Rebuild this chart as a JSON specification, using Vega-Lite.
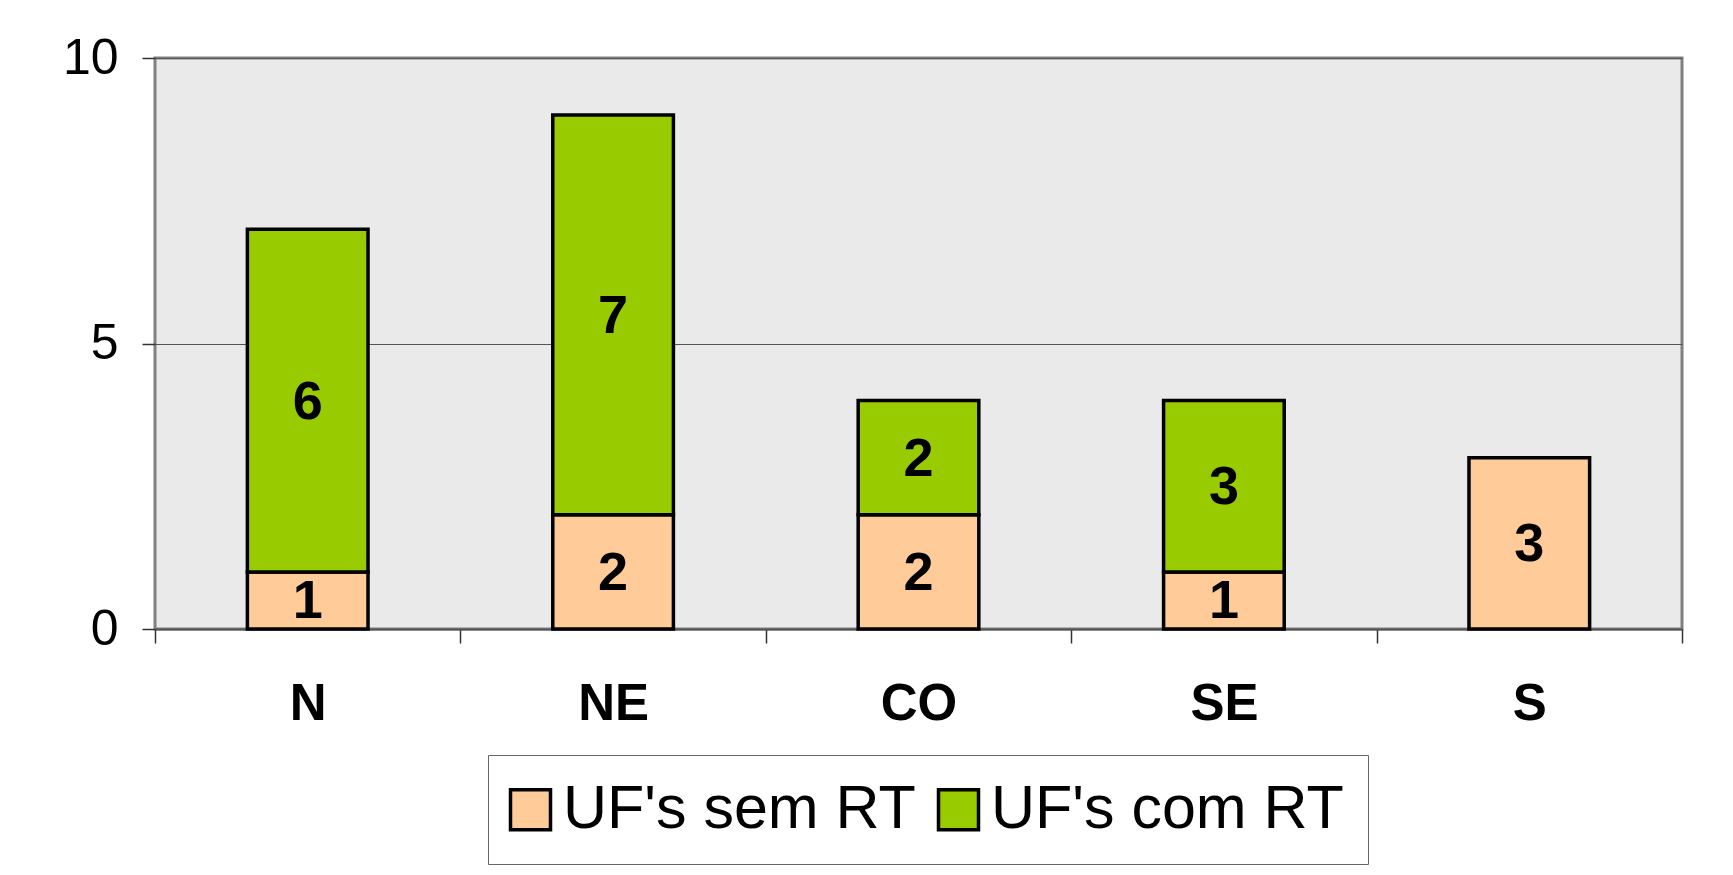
{
  "$schema": "https://vega.github.io/schema/vega-lite/v6.json",
  "autosize": {"type": "none"},
  "width": 1527,
  "height": 571,
  "padding": {"left": 155, "top": 58, "right": 51, "bottom": 246},
  "background": "white",
  "config": {
    "font": "Liberation Sans",
    "view": {"fill": "#eaeaea", "stroke": "#808080", "strokeWidth": 3}
  },
  "data": {
    "values": [
      {"regiao": "N", "serie": "UF's sem RT", "k": 1, "n": 1},
      {"regiao": "N", "serie": "UF's com RT", "k": 2, "n": 6},
      {"regiao": "NE", "serie": "UF's sem RT", "k": 1, "n": 2},
      {"regiao": "NE", "serie": "UF's com RT", "k": 2, "n": 7},
      {"regiao": "CO", "serie": "UF's sem RT", "k": 1, "n": 2},
      {"regiao": "CO", "serie": "UF's com RT", "k": 2, "n": 2},
      {"regiao": "SE", "serie": "UF's sem RT", "k": 1, "n": 1},
      {"regiao": "SE", "serie": "UF's com RT", "k": 2, "n": 3},
      {"regiao": "S", "serie": "UF's sem RT", "k": 1, "n": 3}
    ]
  },
  "encoding": {
    "x": {
      "field": "regiao",
      "type": "nominal",
      "sort": ["N", "NE", "CO", "SE", "S"],
      "scale": {"paddingInner": 0, "paddingOuter": 0},
      "axis": {
        "title": null,
        "labelAngle": 0,
        "labelFont": "Liberation Sans",
        "labelFontSize": 51,
        "labelFontWeight": "bold",
        "labelColor": "black",
        "labelPadding": 36,
        "tickBand": "extent",
        "tickSize": 14,
        "tickColor": "#333333",
        "tickWidth": 1.5,
        "domainColor": "#555555",
        "domainWidth": 2,
        "grid": false
      }
    },
    "y": {
      "field": "n",
      "type": "quantitative",
      "stack": "zero",
      "scale": {"domain": [0, 10], "nice": false},
      "axis": {
        "title": null,
        "values": [0, 5, 10],
        "labelFont": "Liberation Sans",
        "labelFontSize": 50,
        "labelColor": "black",
        "labelPadding": 24,
        "tickSize": 13,
        "tickColor": "#333333",
        "tickWidth": 1.5,
        "domain": false,
        "grid": true,
        "gridColor": "#555555",
        "gridWidth": 1
      }
    },
    "order": {"field": "k", "type": "quantitative"}
  },
  "layer": [
    {
      "mark": {"type": "bar", "stroke": "black", "strokeWidth": 3.5, "width": {"band": 0.395}},
      "encoding": {
        "color": {
          "field": "serie",
          "type": "nominal",
          "scale": {"domain": ["UF's sem RT", "UF's com RT"], "range": ["#FFCC99", "#99CC00"]},
          "legend": {
            "title": null,
            "orient": "none",
            "direction": "horizontal",
            "legendX": 333,
            "legendY": 697,
            "symbolType": "square",
            "symbolSize": 1600,
            "symbolStrokeColor": "black",
            "symbolStrokeWidth": 3.5,
            "symbolOpacity": 1,
            "symbolOffset": -12,
            "labelFont": "Liberation Sans",
            "labelFontSize": 61,
            "labelColor": "black",
            "labelLimit": 0,
            "labelOffset": 2,
            "columnPadding": 15,
            "padding": 24,
            "strokeColor": "#666666",
            "fillColor": "white"
          }
        }
      }
    },
    {
      "mark": {"type": "text", "fontSize": 54, "fontWeight": "bold", "color": "black", "baseline": "middle", "dy": 2},
      "encoding": {
        "y": {"field": "n", "type": "quantitative", "stack": "zero", "bandPosition": 0.5},
        "text": {"field": "n", "type": "quantitative"}
      }
    }
  ]
}
